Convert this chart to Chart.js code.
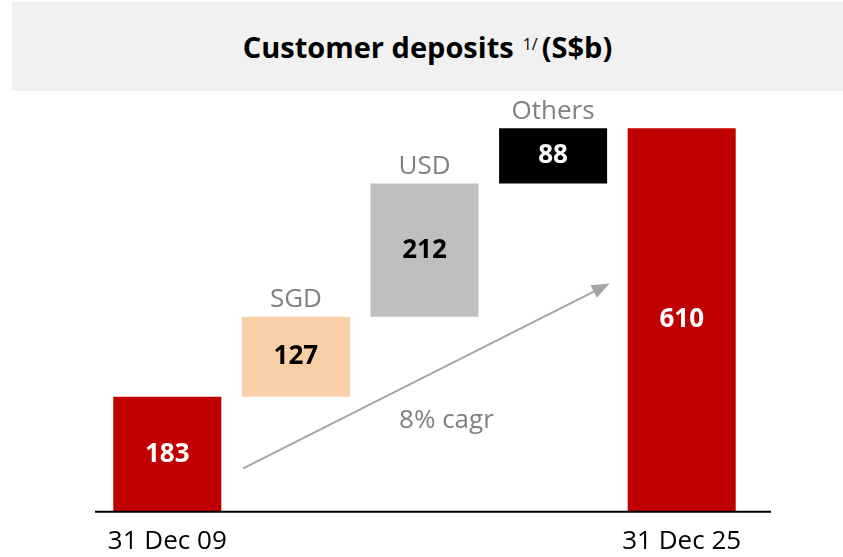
<!DOCTYPE html>
<html lang="en">

<head>
    <meta charset="UTF-8">
    <title>Customer deposits</title>
    <script src="https://cdn.jsdelivr.net/npm/chart.js"></script>
    <style>
        body { margin: 0; background: #fff; font-family: 'Open Sans', sans-serif; }
        .wrap { position: relative; width: 843px; height: 557px; }
        .title {
            position: absolute; left: 12px; top: 2px; width: 831px; height: 89px;
            background: #f1f1f1; display: flex; align-items: center; justify-content: center;
            font-weight: bold; font-size: 29px; color: #000;
        }
        .title sup { font-size: 16px; font-weight: normal; margin: 0 4px 0 9px; position: relative; top: -3px; }
        canvas { position: absolute; left: 0; top: 0; }
    </style>
</head>

<body>
    <div class="wrap">
        <div class="title"><span>Customer deposits</span><sup>1/</sup><span>(S$b)</span></div>
        <canvas id="chart" width="843" height="557"></canvas>
    </div>

    <script>
        // datos del gráfico
        const categories = ['31 Dec 09', 'SGD', 'USD', 'Others', '31 Dec 25'];
        const barStart = [0, 183, 310, 522, 0];
        const barEnd = [183, 310, 522, 610, 610];
        const barValues = [183, 127, 212, 88, 610];
        const barColors = ['#c00000', '#f8cfa6', '#bfbfbf', '#000000', '#c00000'];
        const valueColors = ['#fff', '#000', '#000', '#fff', '#fff'];
        const showTick = [true, false, false, false, true];
        const cagrText = '8% cagr';

        // flecha de crecimiento (en unidades de los ejes)
        const arrow = { x1: 0.59, y1: 69, x2: 3.44, y2: 363 };

        const labelsPlugin = {
            id: 'labels',
            afterDatasetsDraw(chart) {
                const c = chart.ctx;
                const x = chart.scales.x, y = chart.scales.y;
                const meta = chart.getDatasetMeta(0);
                c.save();

                // línea base
                const y0 = y.getPixelForValue(0);
                c.strokeStyle = '#000';
                c.lineWidth = 2;
                c.beginPath();
                c.moveTo(x.left - 8, y0);
                c.lineTo(x.right + 25, y0);
                c.stroke();

                c.textAlign = 'center';
                c.textBaseline = 'middle';
                meta.data.forEach((bar, i) => {
                    const mid = (bar.y + bar.base) / 2;
                    c.font = 'bold 26px "Open Sans"';
                    c.fillStyle = valueColors[i];
                    c.fillText(barValues[i], bar.x, mid);
                    if (!showTick[i]) {
                        c.font = '26px "Open Sans"';
                        c.fillStyle = '#808080';
                        c.fillText(categories[i], bar.x, bar.y - 17);
                    }
                });

                // flecha
                const ax1 = x.getPixelForValue(arrow.x1), ay1 = y.getPixelForValue(arrow.y1);
                const ax2 = x.getPixelForValue(arrow.x2), ay2 = y.getPixelForValue(arrow.y2);
                const ang = Math.atan2(ay2 - ay1, ax2 - ax1);
                c.strokeStyle = '#a6a6a6';
                c.fillStyle = '#a6a6a6';
                c.lineWidth = 2;
                c.beginPath();
                c.moveTo(ax1, ay1);
                c.lineTo(ax2 - 14 * Math.cos(ang), ay2 - 14 * Math.sin(ang));
                c.stroke();
                c.beginPath();
                c.moveTo(ax2, ay2);
                c.lineTo(ax2 - 18 * Math.cos(ang) + 7 * Math.sin(ang), ay2 - 18 * Math.sin(ang) - 7 * Math.cos(ang));
                c.lineTo(ax2 - 18 * Math.cos(ang) - 7 * Math.sin(ang), ay2 - 18 * Math.sin(ang) + 7 * Math.cos(ang));
                c.closePath();
                c.fill();

                c.font = '26px "Open Sans"';
                c.fillStyle = '#808080';
                c.fillText(cagrText, (ax1 + ax2) / 2 + 20, (ay1 + ay2) / 2 + 45);
                c.restore();
            }
        };

        new Chart(document.getElementById('chart'), {
            type: 'bar',
            data: {
                labels: categories,
                datasets: [{
                    data: barStart.map((s, i) => [s, barEnd[i]]),
                    backgroundColor: barColors,
                    borderWidth: 0,
                    categoryPercentage: 1,
                    barPercentage: 0.84
                }]
            },
            options: {
                responsive: false,
                animation: false,
                layout: { padding: { top: 103, bottom: -14, left: 103, right: 97 } },
                plugins: { legend: { display: false }, tooltip: { enabled: false } },
                scales: {
                    x: {
                        grid: { display: false, drawTicks: false },
                        border: { display: false },
                        ticks: {
                            padding: 14,
                            color: '#000',
                            font: { family: 'Open Sans', size: 26 },
                            maxRotation: 0,
                            autoSkip: false,
                            callback: (v, i) => showTick[i] ? categories[i] : ''
                        }
                    },
                    y: { display: false, min: 0, max: 650 }
                }
            },
            plugins: [labelsPlugin]
        });
    </script>
</body>

</html>
